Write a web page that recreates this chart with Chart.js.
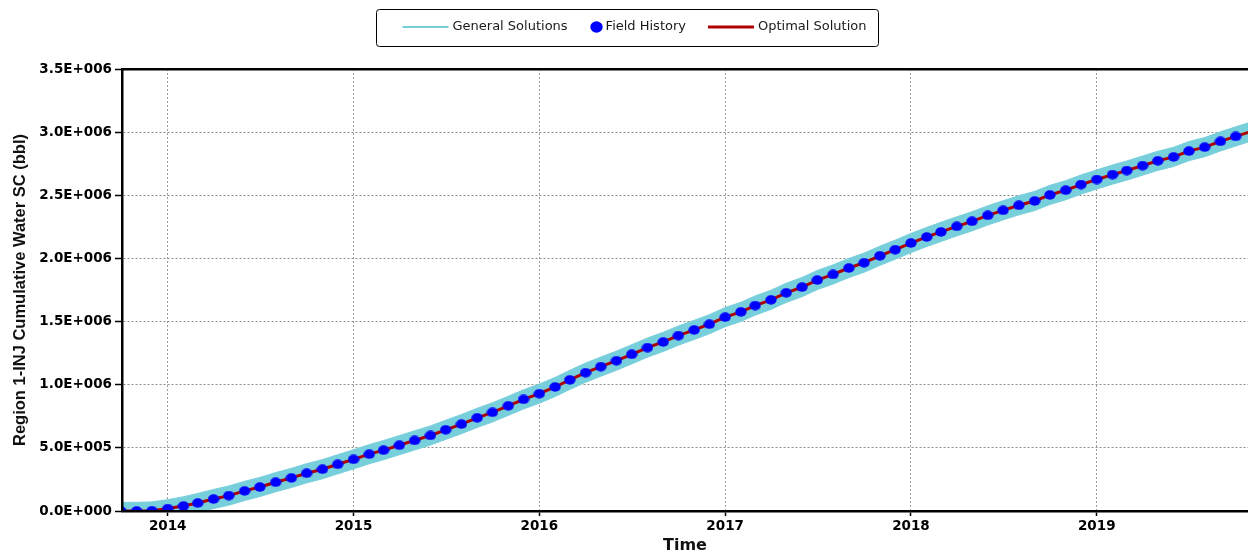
<!DOCTYPE html>
<html>
<head>
<meta charset="utf-8">
<title>Region 1-INJ Cumulative Water SC</title>
<script src="https://cdn.jsdelivr.net/npm/chart.js@4.4.1/dist/chart.umd.min.js"></script>
<style>
  html, body { margin: 0; padding: 0; background: #ffffff; }
  #wrap { width: 1248px; height: 555px; }
  canvas { display: block; }
</style>
</head>
<body>
<div id="wrap"><canvas id="chart" width="1248" height="555"></canvas></div>
<script>
// Monthly report dates (first day of each month)
const months = [
  '2013-10', '2013-11', '2013-12',
  '2014-01', '2014-02', '2014-03', '2014-04', '2014-05', '2014-06', '2014-07', '2014-08', '2014-09', '2014-10', '2014-11', '2014-12',
  '2015-01', '2015-02', '2015-03', '2015-04', '2015-05', '2015-06', '2015-07', '2015-08', '2015-09', '2015-10', '2015-11', '2015-12',
  '2016-01', '2016-02', '2016-03', '2016-04', '2016-05', '2016-06', '2016-07', '2016-08', '2016-09', '2016-10', '2016-11', '2016-12',
  '2017-01', '2017-02', '2017-03', '2017-04', '2017-05', '2017-06', '2017-07', '2017-08', '2017-09', '2017-10', '2017-11', '2017-12',
  '2018-01', '2018-02', '2018-03', '2018-04', '2018-05', '2018-06', '2018-07', '2018-08', '2018-09', '2018-10', '2018-11', '2018-12',
  '2019-01', '2019-02', '2019-03', '2019-04', '2019-05', '2019-06', '2019-07', '2019-08', '2019-09', '2019-10', '2019-11'
];

// Cumulative water injected, thousand bbl
const fieldHistory = [
  0, 0, 2,
  19, 40, 63, 95, 122, 159, 190, 228, 262, 299, 331, 370,
  409, 450, 482, 521, 559, 598, 643, 688, 738, 781, 833, 884,
  929, 982, 1038, 1095, 1143, 1190, 1241, 1294, 1339, 1389, 1434, 1479,
  1535, 1577, 1627, 1672, 1728, 1773, 1829, 1873, 1924, 1966, 2021, 2069,
  2122, 2170, 2210, 2254, 2294, 2341, 2381, 2421, 2455, 2503, 2540, 2585,
  2625, 2664, 2696, 2735, 2773, 2804, 2850, 2881, 2927, 2966
];

const optimalSolution = [
  0, 0, 2,
  19, 40, 63, 95, 122, 159, 190, 228, 262, 299, 331, 370,
  409, 450, 482, 521, 559, 598, 643, 688, 738, 781, 833, 884,
  929, 982, 1038, 1095, 1143, 1190, 1241, 1294, 1339, 1389, 1434, 1479,
  1535, 1577, 1627, 1672, 1728, 1773, 1829, 1873, 1924, 1966, 2021, 2069,
  2122, 2170, 2210, 2254, 2294, 2341, 2381, 2421, 2455, 2503, 2540, 2585,
  2625, 2664, 2696, 2735, 2773, 2804, 2850, 2881, 2927, 2966, 3006
];

// Envelope of the general solutions (upper / lower), thousand bbl
const generalUpper = [
  68, 69, 72,
  90, 113, 139, 171, 198, 235, 266, 304, 338, 375, 407, 446,
  485, 526, 558, 597, 635, 674, 719, 764, 814, 857, 909, 960,
  1005, 1058, 1114, 1171, 1219, 1266, 1317, 1370, 1415, 1465, 1510, 1555,
  1611, 1653, 1703, 1748, 1804, 1849, 1905, 1949, 2000, 2042, 2097, 2145,
  2198, 2246, 2286, 2330, 2370, 2417, 2457, 2497, 2531, 2579, 2616, 2661,
  2701, 2740, 2772, 2811, 2849, 2880, 2926, 2957, 3003, 3042, 3082
];

const generalLower = [
  -70, -70, -68,
  -57, -36, -13, 19, 46, 83, 114, 152, 186, 223, 255, 294,
  333, 374, 406, 445, 483, 522, 567, 612, 662, 705, 757, 808,
  853, 906, 962, 1019, 1067, 1114, 1165, 1218, 1263, 1313, 1358, 1403,
  1459, 1501, 1551, 1596, 1652, 1697, 1753, 1797, 1848, 1890, 1945, 1993,
  2046, 2094, 2134, 2178, 2218, 2265, 2305, 2345, 2379, 2427, 2464, 2509,
  2549, 2588, 2620, 2659, 2697, 2728, 2774, 2805, 2851, 2890, 2930
];

// Axis ticks
const xTickYears = [2014, 2015, 2016, 2017, 2018, 2019];
const xTickLabels = ['2014', '2015', '2016', '2017', '2018', '2019'];
const yTickValues = [0, 500000, 1000000, 1500000, 2000000, 2500000, 3000000, 3500000];
const yTickLabels = ['0.0E+000', '5.0E+005', '1.0E+006', '1.5E+006', '2.0E+006', '2.5E+006', '3.0E+006', '3.5E+006'];

const KBBL = 1000;
const X_MIN = 2013.754;
const X_MAX = 2019.814;

// 'YYYY-MM' -> fractional year
function toYear(ym) {
  const [y, m] = ym.split('-').map(Number);
  const t0 = Date.UTC(y, 0, 1), t1 = Date.UTC(y + 1, 0, 1);
  return y + (Date.UTC(y, m - 1, 1) - t0) / (t1 - t0);
}
function series(values) {
  return values.map((v, i) => ({ x: toYear(months[i]), y: v * KBBL }));
}

// Slightly oval marker used for the history points
function ovalMarker(w, h, color) {
  const c = document.createElement('canvas');
  c.width = w; c.height = h;
  const g = c.getContext('2d');
  g.fillStyle = color;
  g.beginPath();
  g.ellipse(w / 2, h / 2, w / 2 - 0.3, h / 2 - 0.3, 0, 0, Math.PI * 2);
  g.fill();
  return c;
}

const CYAN = '#76cfdb';
const BLUE = '#0000ff';
const RED = '#b00000';
const historyDot = ovalMarker(12, 10, BLUE);
const legendDot = ovalMarker(13, 12, BLUE);

// Boxed legend drawn across the top of the chart
const legendBox = {
  id: 'legendBox',
  afterDraw(chart, args, o) {
    const ctx = chart.ctx;
    const items = chart.data.datasets
      .filter(d => d.legendKind)
      .sort((a, b) => a.legendOrder - b.legendOrder);
    ctx.save();
    ctx.font = o.font;
    const textW = items.map(d => ctx.measureText(d.label).width);
    let group = 0;
    items.forEach((d, i) => { group += o.sample[d.legendKind] + o.sampleGap[d.legendKind] + textW[i]; });
    group += o.itemGap * (items.length - 1);
    const boxW = Math.round(group + o.padLeft + o.padRight);
    const boxL = Math.round(chart.width / 2 + o.shift - boxW / 2) + 0.5;
    const boxT = o.top + 0.5, boxH = o.height, r = o.radius;
    ctx.beginPath();
    ctx.moveTo(boxL + r, boxT);
    ctx.arcTo(boxL + boxW, boxT, boxL + boxW, boxT + boxH, r);
    ctx.arcTo(boxL + boxW, boxT + boxH, boxL, boxT + boxH, r);
    ctx.arcTo(boxL, boxT + boxH, boxL, boxT, r);
    ctx.arcTo(boxL, boxT, boxL + boxW, boxT, r);
    ctx.closePath();
    ctx.lineWidth = 1;
    ctx.strokeStyle = '#000';
    ctx.stroke();

    const cy = o.textY;
    let x = boxL + o.padLeft;
    items.forEach((d, i) => {
      const sw = o.sample[d.legendKind];
      if (d.legendKind === 'dot') {
        ctx.drawImage(legendDot, Math.round(x + (sw - legendDot.width) / 2), Math.round(cy - legendDot.height / 2));
      } else {
        ctx.beginPath();
        ctx.moveTo(x, cy);
        ctx.lineTo(x + sw, cy);
        ctx.strokeStyle = d.legendColor;
        ctx.lineWidth = d.legendWidth;
        ctx.stroke();
      }
      x += sw + o.sampleGap[d.legendKind];
      ctx.fillStyle = o.color;
      ctx.textAlign = 'left';
      ctx.textBaseline = 'middle';
      ctx.fillText(d.label, x, cy);
      x += textW[i] + o.itemGap;
    });
    ctx.restore();
  }
};

// Keep the plot area flush with the canvas edges chosen by afterFit
function noLabelPadding(s) {
  s.paddingLeft = 0;
  s.paddingRight = 0;
}

Chart.defaults.font.family = '"DejaVu Sans", sans-serif';

const tickFont = { family: '"DejaVu Sans", sans-serif', size: 13.5, weight: 'bold' };

new Chart(document.getElementById('chart'), {
  type: 'line',
  data: {
    datasets: [
      {
        label: 'Field History',
        legendKind: 'dot',
        legendOrder: 2,
        data: series(fieldHistory),
        showLine: false,
        pointStyle: historyDot,
        pointRadius: 5,
        pointHoverRadius: 5,
        backgroundColor: BLUE,
        borderColor: BLUE,
        order: 0
      },
      {
        label: 'Optimal Solution',
        legendKind: 'line',
        legendOrder: 3,
        legendColor: RED,
        legendWidth: 3,
        data: series(optimalSolution),
        borderColor: RED,
        borderWidth: 3,
        pointRadius: 0,
        tension: 0,
        fill: false,
        order: 1
      },
      {
        label: 'General Solutions',
        legendKind: 'line',
        legendOrder: 1,
        legendColor: CYAN,
        legendWidth: 2,
        data: series(generalUpper),
        borderColor: CYAN,
        backgroundColor: CYAN,
        borderWidth: 1,
        pointRadius: 0,
        tension: 0,
        fill: '+1',
        order: 2
      },
      {
        label: 'General Solutions (lower)',
        data: series(generalLower),
        borderColor: CYAN,
        backgroundColor: CYAN,
        borderWidth: 1,
        pointRadius: 0,
        tension: 0,
        fill: false,
        order: 3
      }
    ]
  },
  options: {
    responsive: false,
    animation: false,
    events: [],
    layout: { autoPadding: false, padding: { top: 69, left: 0, right: 0, bottom: 0 } },
    plugins: {
      legend: { display: false },
      tooltip: { enabled: false },
      legendBox: {
        font: '13px "DejaVu Sans", sans-serif',
        color: '#1a1a1a',
        top: 9,
        height: 37,
        radius: 3,
        textY: 27,
        shift: 2.5,
        padLeft: 26,
        padRight: 12,
        itemGap: 22,
        sample: { line: 46, dot: 13 },
        sampleGap: { line: 4, dot: 3 }
      }
    },
    scales: {
      x: {
        type: 'linear',
        position: 'bottom',
        min: X_MIN,
        max: X_MAX,
        afterBuildTicks: s => { s.ticks = xTickYears.map(v => ({ value: v })); },
        afterFit: s => { s.height = 44; noLabelPadding(s); },
        ticks: {
          callback: (v, i) => xTickLabels[i],
          font: tickFont,
          color: '#000',
          padding: 2,
          maxRotation: 0,
          autoSkip: false
        },
        grid: { color: '#9a9a9a', lineWidth: 1, tickLength: 5, tickColor: '#000', tickWidth: 1.5 },
        border: { display: true, color: '#000', width: 2.5, dash: [2, 2], z: 1 },
        title: {
          display: true,
          text: 'Time',
          font: { family: '"DejaVu Sans", sans-serif', size: 16, weight: 'bold' },
          color: '#111',
          padding: { top: 0, bottom: 0 }
        }
      },
      xTop: {
        type: 'linear',
        position: 'top',
        min: X_MIN,
        max: X_MAX,
        afterFit: s => { s.height = 0; noLabelPadding(s); },
        ticks: { display: false },
        grid: { display: false, drawOnChartArea: false, drawTicks: false },
        border: { display: true, color: '#000', width: 2.5, z: 1 }
      },
      y: {
        type: 'linear',
        min: 0,
        max: 3500000,
        afterBuildTicks: s => { s.ticks = yTickValues.map(v => ({ value: v })); },
        afterFit: s => { s.width = 122; },
        ticks: {
          callback: (v, i) => yTickLabels[i],
          font: tickFont,
          color: '#000',
          padding: 3
        },
        grid: { color: '#8c8c8c', lineWidth: 1, tickLength: 7, tickColor: '#000', tickWidth: 1.5 },
        border: { display: true, color: '#000', width: 2.5, dash: [2, 2], z: 1 },
        title: {
          display: true,
          text: 'Region 1-INJ Cumulative Water SC (bbl)',
          font: { family: '"Liberation Sans", Arial, sans-serif', size: 16.5, weight: 'bold' },
          color: '#111',
          padding: { top: 11, bottom: 0 }
        }
      }
    }
  },
  plugins: [legendBox]
});
</script>
</body>
</html>
